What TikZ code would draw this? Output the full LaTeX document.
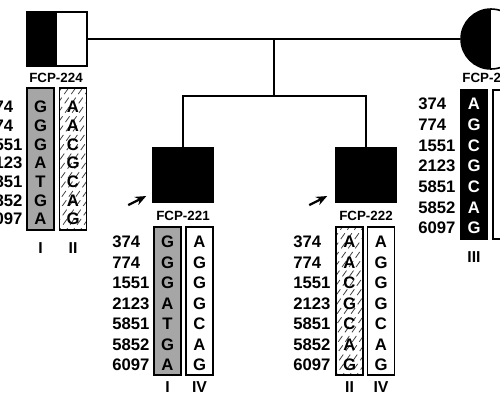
\documentclass[tikz,border=0pt]{standalone}
\usepackage{fontspec}
\setmainfont{Liberation Sans}
\usetikzlibrary{arrows.meta,positioning,calc}

\begin{document}
\begin{tikzpicture}[
    x=0.02cm, y=-0.02cm,
    person/.style={draw, line width=0.9pt, minimum width=1.2cm, minimum height=1.07cm, inner sep=0pt},
    halfblack/.style={path picture={\fill (path picture bounding box.south west) rectangle (path picture bounding box.north);}},
    allele/.style={draw, line width=0.9pt, minimum width=0.54cm, inner sep=0pt},
    hatched/.style={path picture={\foreach \k in {0,...,36}
        \draw[black!75, line width=0.45pt, dash pattern=on 4pt off 2.5pt]
        ($(path picture bounding box.south west)+(-220+7*\k,4)$) -- ++(120,-170);}},
    base/.style={font=\bfseries\fontsize{9.5}{10}\selectfont, inner sep=0pt},
    site/.style={font=\bfseries\fontsize{9.5}{10}\selectfont, inner sep=0pt, anchor=west},
    tag/.style={font=\bfseries\fontsize{7.6}{8}\selectfont, inner sep=0pt},
    hap/.style={font=\bfseries\fontsize{9}{10}\selectfont, inner sep=0pt},
    proband/.style={-{Stealth[length=2.2mm, width=1.8mm]}, line width=1.3pt},
]
    \useasboundingbox (0,0) rectangle (500,400);
    \clip (0,0) rectangle (500,400);

    % parents
    \node[person, halfblack] (f224) at (57,39) {};
    \node[tag] (t224) at (56,78) {FCP-224};
    \node[person, circle, minimum size=1.2cm, halfblack] (mother) at (491,39) {};
    \node[tag, anchor=west] (tmother) at (462,78) {FCP-2};

    % children
    \node[person, fill=black] (c221) at (183,175) {};
    \node[tag] (t221) at (183,216) {FCP-221};
    \node[person, fill=black] (c222) at (366,175) {};
    \node[tag] (t222) at (366,216) {FCP-222};

    \coordinate (drop) at ($(f224.east)!0.5!(mother.west)$);
    \coordinate (sib) at ($(drop)+(0,57)$);
    \draw[line width=0.7pt] (f224.east) -- (mother.west);
    \draw[line width=0.7pt] (drop) -- (sib);
    \draw[line width=0.7pt] (c221.north) |- (sib) -| (c222.north);

    \draw[proband] ($(c221.south west)+(-24,2.5)$) -- ($(c221.south west)+(-6,-6.5)$);
    \draw[proband] ($(c222.south west)+(-26,2.5)$) -- ($(c222.south west)+(-8,-6.5)$);

    % FCP-224
    \foreach \s [count=\i from 0] in {374,774,1551,2123,5851,5852,6097}
        \node[site] at (-15,107+18.7*\i) {\s};
    \node[allele, fill=black!35, minimum height=2.84cm] (f224a) at (40.5,159) {};
    \foreach \b [count=\i from 0] in {G,G,G,A,T,G,A}
        \node[base] at (40.5,107+18.7*\i) {\b};
    \node[allele, hatched, minimum height=2.84cm] (f224b) at (73,159) {};
    \foreach \b [count=\i from 0] in {A,A,C,G,C,A,G}
        \node[base] at (73,107+18.7*\i) {\b};
    \node[hap] at (40.5,248) {I};
    \node[hap] at (73,248) {II};

    % mother
    \foreach \s [count=\i from 0] in {374,774,1551,2123,5851,5852,6097}
        \node[site] at (418,104+20.7*\i) {\s};
    \node[allele, fill=black, minimum height=2.98cm] (ma) at (474,164.5) {};
    \foreach \b [count=\i from 0] in {A,G,C,G,C,A,G}
        \node[base, text=white] at (474,104+20.7*\i) {\b};
    \node[allele, minimum height=2.98cm] (mb) at (506.5,164.5) {};
    \foreach \b [count=\i from 0] in {A,G,G,G,C,A,G}
        \node[base] at (506.5,104+20.7*\i) {\b};
    \node[hap] at (474,257) {III};
    \node[hap] at (506.5,257) {IV};

    % FCP-221
    \foreach \s [count=\i from 0] in {374,774,1551,2123,5851,5852,6097}
        \node[site] at (112,242+20.5*\i) {\s};
    \node[allele, fill=black!35, minimum height=2.96cm] (c221a) at (167.5,301) {};
    \foreach \b [count=\i from 0] in {G,G,G,A,T,G,A}
        \node[base] at (167.5,242+20.5*\i) {\b};
    \node[allele, minimum height=2.96cm] (c221b) at (199.5,301) {};
    \foreach \b [count=\i from 0] in {A,G,G,G,C,A,G}
        \node[base] at (199.5,242+20.5*\i) {\b};
    \node[hap] at (167.5,387) {I};
    \node[hap] at (199.5,387) {IV};

    % FCP-222
    \foreach \s [count=\i from 0] in {374,774,1551,2123,5851,5852,6097}
        \node[site] at (293,242+20.5*\i) {\s};
    \node[allele, hatched, minimum height=2.96cm] (c222a) at (349.5,301) {};
    \foreach \b [count=\i from 0] in {A,A,C,G,C,A,G}
        \node[base] at (349.5,242+20.5*\i) {\b};
    \node[allele, minimum height=2.96cm] (c222b) at (381,301) {};
    \foreach \b [count=\i from 0] in {A,G,G,G,C,A,G}
        \node[base] at (381,242+20.5*\i) {\b};
    \node[hap] at (349.5,387) {II};
    \node[hap] at (381,387) {IV};
\end{tikzpicture}
\end{document}
